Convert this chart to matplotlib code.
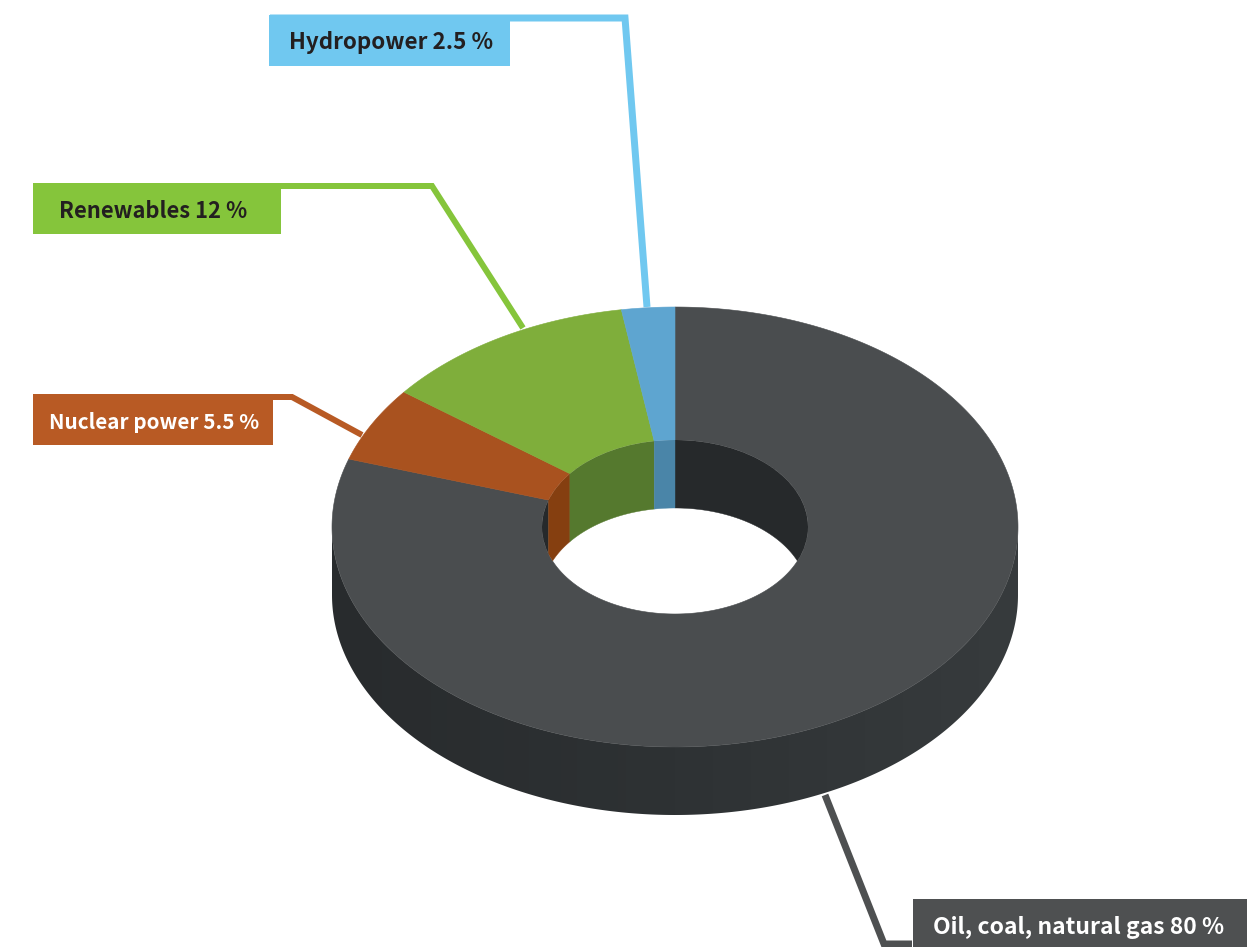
import numpy as np
import matplotlib
matplotlib.use("Agg")
import matplotlib.pyplot as plt
from matplotlib.patches import Polygon, Ellipse, Rectangle
from matplotlib.colors import LinearSegmentedColormap

# Global primary energy mix, in percent, clockwise from the top of the ring
categories = ["Oil, coal, natural gas", "Nuclear power", "Renewables", "Hydropower"]
shares = [80, 5.5, 12, 2.5]

# Colours per category
top_colors = ["#4a4d4f", "#a9521f", "#7fae3b", "#5ea5d0"]
wall_colors = ["#26292b", "#853f10", "#55792e", "#4a85a8"]
box_colors = ["#4e5051", "#b85a24", "#85c53b", "#70c8f0"]
text_colors = ["#ffffff", "#ffffff", "#231f20", "#231f20"]

W, H = 1259, 947
fig = plt.figure(figsize=(W / 100, H / 100), dpi=100, facecolor="white")
ax = fig.add_axes([0, 0, 1, 1])
ax.axis("off")

# Projected ring geometry
CX, CY = 675, 527
RX, RY = 343, 220
IRX, IRY = 133, 87
DEPTH = 68


def point(theta, rx, ry, dy=0):
    """Clockwise angle from the top of the ellipse to canvas coordinates."""
    t = np.radians(theta)
    return np.column_stack([CX + rx * np.sin(t), CY - ry * np.cos(t) + dy])


def arc(a, b, rx, ry, dy=0):
    n = max(int(abs(b - a) * 2), 2)
    return point(np.linspace(a, b, n), rx, ry, dy)


edges = np.concatenate([[0], np.cumsum(shares)]) * 3.6

# Connector lines and label boxes
leaders = [
    ([912, 884, 825], [944, 944, 795], 7),
    ([270, 292, 362], [397, 397, 435], 6),
    ([33, 432, 523], [186, 186, 328], 6),
    ([270, 625, 647], [18, 18, 307], 7),
]
boxes = [(913, 899, 334, 60), (33, 394, 240, 51), (33, 183, 248, 51), (269, 15, 241, 51)]
text_pos = [(1078.5, 927), (154, 422), (153.5, 211), (391, 42)]
sizes = [16.5, 14.9, 15.8, 16.1]

for i, name in enumerate(categories):
    xs, ys, width = leaders[i]
    ax.plot(xs, ys, color=box_colors[i], lw=width * 0.72, solid_joinstyle="miter",
            solid_capstyle="butt", zorder=1)
    x, y, w, h = boxes[i]
    ax.add_patch(Rectangle((x, y), w, h, fc=box_colors[i], ec="none", zorder=2))
    ax.text(*text_pos[i], f"{name} {shares[i]:g} %", color=text_colors[i],
            family="Noto Sans CJK SC", weight="bold", fontsize=sizes[i],
            ha="center", va="center", zorder=3)

# Outer side wall: a horizontal shade, lighter towards the right
side_cmap = LinearSegmentedColormap.from_list("side", ["#282b2d", "#2e3234", "#373b3d"])
side = Polygon(np.vstack([arc(90, 270, RX, RY), arc(270, 90, RX, RY, DEPTH)]),
               fc="none", ec="none", transform=ax.transData)
ax.add_patch(side)
shade = ax.imshow(np.linspace(0, 1, 256).reshape(1, -1), cmap=side_cmap, aspect="auto",
                  extent=(CX - RX, CX + RX, CY + RY + DEPTH, CY - RY), zorder=4,
                  interpolation="bilinear")
shade.set_clip_path(side)

# Top face of each slice
for i in range(len(shares)):
    a, b = edges[i], edges[i + 1]
    poly = np.vstack([arc(a, b, RX, RY), arc(b, a, IRX, IRY)])
    ax.add_patch(Polygon(poly, fc=top_colors[i], ec=top_colors[i], lw=0.4, zorder=5))

# Inner wall seen through the hole, clipped to the hole's top rim
hole = Ellipse((CX, CY), 2 * IRX, 2 * IRY, transform=ax.transData, fc="none", ec="none")
ax.add_patch(hole)
for i in range(len(shares)):
    a, b = edges[i], edges[i + 1]
    for lo, hi in ((max(a, 0), min(b, 90)), (max(a, 270), min(b, 360))):
        if hi <= lo:
            continue
        quad = np.vstack([arc(lo, hi, IRX, IRY), arc(hi, lo, IRX, IRY, DEPTH)])
        wall = Polygon(quad, fc=wall_colors[i], ec=wall_colors[i], lw=0.3, zorder=6)
        ax.add_patch(wall)
        wall.set_clip_path(hole)

ax.set_xlim(0, W)
ax.set_ylim(H, 0)
fig.savefig("out.png", dpi=100, facecolor="white")
